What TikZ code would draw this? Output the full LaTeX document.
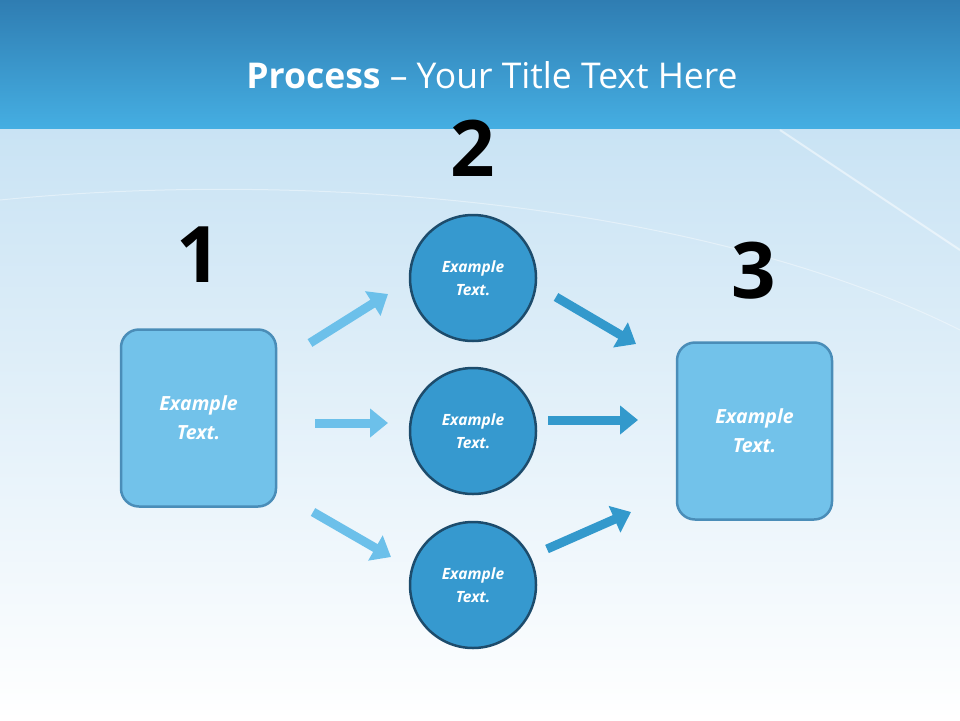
\documentclass[tikz,border=0pt]{standalone}
\usepackage{fontspec}
\setmainfont{Open Sans}
\usetikzlibrary{arrows.meta}
\definecolor{hdtop}{HTML}{2F7DB2}
\definecolor{hdbot}{HTML}{45AEE2}
\definecolor{bgtop}{HTML}{C9E3F4}
\definecolor{boxfill}{HTML}{72C2EA}
\definecolor{boxline}{HTML}{4A8DB8}
\definecolor{circfill}{HTML}{3699CF}
\definecolor{circline}{HTML}{1D4C6C}
\definecolor{arrlight}{HTML}{6CC0EA}
\definecolor{arrdark}{HTML}{3399CC}
\tikzset{
 sbox/.style={draw=boxline,line width=2.5pt,fill=boxfill,rounded corners=18pt,minimum width=155pt,minimum height=177pt,text=white,font=\fontsize{19.5}{29}\selectfont\bfseries\itshape,align=center},
 scirc/.style={circle,draw=circline,line width=2.5pt,fill=circfill,minimum size=126pt,text=white,font=\fontsize{15.5}{23}\selectfont\bfseries\itshape,align=center},
 num/.style={font=\fontsize{78}{78}\selectfont\bfseries},
 arr/.style={line width=9pt,-{Triangle[length=18pt,width=28pt]}}
}
\begin{document}
\begin{tikzpicture}[x=1pt,y=-1pt]
\useasboundingbox (0,0) rectangle (960,720);
\shade[top color=bgtop,bottom color=white] (0,128) rectangle (960,720);
\shade[top color=hdtop,bottom color=hdbot] (0,0) rectangle (960,128);
\draw[white,opacity=0.5,line width=2pt] (780,130) -- (960,250);
\draw[white,opacity=0.4,line width=1pt] (0,200) .. controls (300,170) and (700,200) .. (960,330);
\node[text=white,font=\fontsize{35.5}{40}\selectfont] (title) at (492,75) {\textbf{Process} -- Your Title Text Here};
\node[num] (n1) at (199,255) {1};
\node[num] (n2) at (473,148) {2};
\node[num] (n3) at (754,271) {3};
\node[sbox] (b1) at (198.5,418) {Example\\Text.};
\node[sbox] (b3) at (754.5,431) {Example\\Text.};
\node[scirc] (c1) at (473,278) {Example\\Text.};
\node[scirc] (c2) at (473,431) {Example\\Text.};
\node[scirc] (c3) at (473,585) {Example\\Text.};
\coordinate (a1s) at (310,343); \coordinate (a1e) at (388,294);
\coordinate (a2s) at (315,423); \coordinate (a2e) at (388,423);
\coordinate (a3s) at (313,512); \coordinate (a3e) at (391,557);
\coordinate (d1s) at (556,297); \coordinate (d1e) at (636,344);
\coordinate (d2s) at (548,420); \coordinate (d2e) at (638,420);
\coordinate (d3s) at (547,549); \coordinate (d3e) at (631,512);
\draw[arr,arrlight] (a1s) -- (a1e);
\draw[arr,arrlight] (a2s) -- (a2e);
\draw[arr,arrlight] (a3s) -- (a3e);
\draw[arr,arrdark] (d1s) -- (d1e);
\draw[arr,arrdark] (d2s) -- (d2e);
\draw[arr,arrdark] (d3s) -- (d3e);
\end{tikzpicture}
\end{document}
